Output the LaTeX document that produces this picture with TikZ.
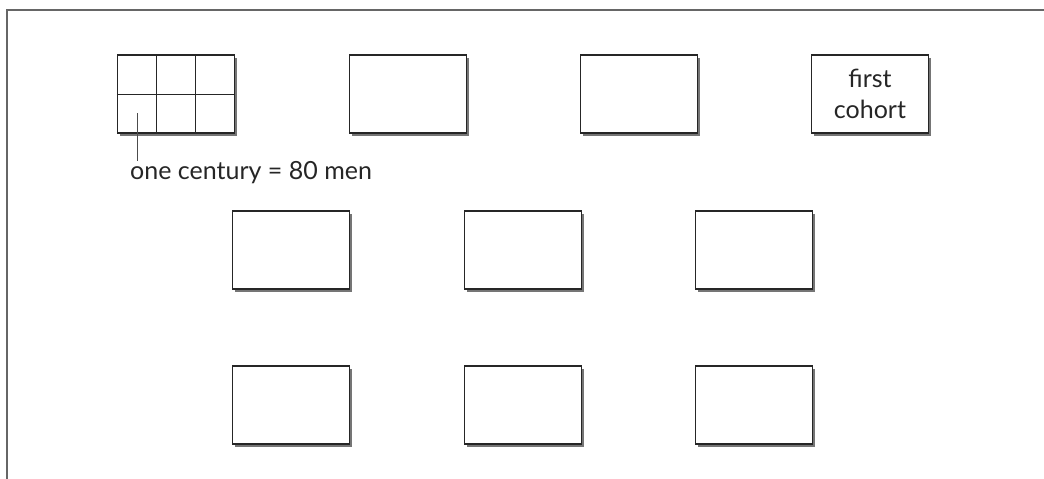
\documentclass[tikz,border=0pt]{standalone}
\usepackage{fontspec}
\setmainfont{Lato}
\usetikzlibrary{calc,shadows}
\tikzset{
  cbox/.style={draw=black!85, line width=1.1pt, fill=white, minimum width=117pt, minimum height=78pt, inner sep=0pt,
    drop shadow={shadow xshift=2.5pt, shadow yshift=-2.5pt, fill=black!60, opacity=0.9}},
  frameline/.style={draw=black!60, line width=1.6pt},
  gridline/.style={draw=black!85, line width=0.9pt},
  leader/.style={draw=black!70, line width=0.8pt},
  lbl/.style={font=\fontsize{25}{30}\selectfont, text=black!85, inner sep=0pt}
}
\begin{document}
\begin{tikzpicture}[x=1pt,y=-1pt]
\useasboundingbox (0,0) rectangle (1044,479);
\coordinate (ftl) at (7,10);
\coordinate (ftr) at (1044,10);
\coordinate (fbl) at (7,479);
\draw[frameline] (fbl) -- (ftl) -- (ftr);
% row 1
\node[cbox] (b11) at (176,94) {};
\node[cbox] (b12) at (408,94) {};
\node[cbox] (b13) at (639,94) {};
\node[cbox, align=center, lbl, minimum width=117pt, minimum height=78pt] (b14) at (870,94) {first\\[1pt]cohort};
% row 2
\node[cbox] (b21) at (291,250) {};
\node[cbox] (b22) at (523,250) {};
\node[cbox] (b23) at (754,250) {};
% row 3
\node[cbox] (b31) at (291,405) {};
\node[cbox] (b32) at (523,405) {};
\node[cbox] (b33) at (754,405) {};
% grid in first box
\draw[gridline] ($(b11.north west)!1/3!(b11.north east)$) -- ($(b11.south west)!1/3!(b11.south east)$);
\draw[gridline] ($(b11.north west)!2/3!(b11.north east)$) -- ($(b11.south west)!2/3!(b11.south east)$);
\draw[gridline] (b11.west) -- (b11.east);
% label
\coordinate (lt) at (137,113);
\node[lbl, anchor=north west] (cent) at (130,161) {one century = 80 men};
\draw[leader] (lt) -- (lt |- cent.north);
\end{tikzpicture}
\end{document}
